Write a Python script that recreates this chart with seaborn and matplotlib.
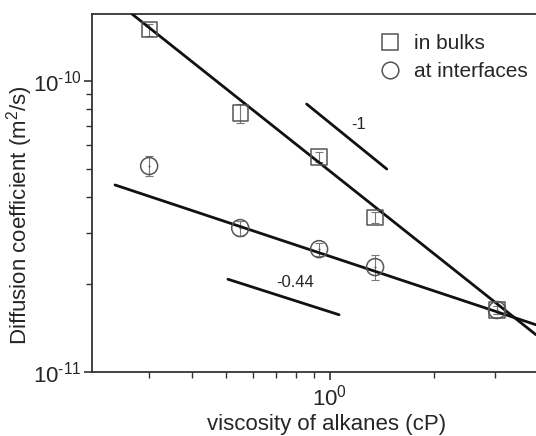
import matplotlib
matplotlib.use("Agg")
import matplotlib.pyplot as plt
import seaborn as sns
import pandas as pd
import numpy as np
from matplotlib.ticker import LogLocator, NullFormatter, FixedLocator, FixedFormatter
from matplotlib.lines import Line2D

# ---- data ----
viscosity = [0.30, 0.55, 0.93, 1.35, 3.04]          # cP
d_bulk = [1.50e-10, 7.76e-11, 5.48e-11, 3.40e-11, 1.63e-11]
d_bulk_err = [7.0e-12, 5.7e-12, 2.2e-12, 1.4e-12, 5e-13]
d_interf = [5.10e-11, 3.12e-11, 2.64e-11, 2.29e-11, 1.63e-11]
d_interf_err = [4.0e-12, 1.8e-12, 1.3e-12, 2.3e-12, 5e-13]

fit_bulk_x = [0.2676, 3.94]
fit_bulk_y = [1.70e-10, 1.34e-11]
fit_interf_x = [0.239, 3.94]
fit_interf_y = [4.39e-11, 1.45e-11]

ref1_x = [0.856, 1.459]
ref1_y = [8.33e-11, 4.98e-11]
ref044_x = [0.507, 1.062]
ref044_y = [2.08e-11, 1.57e-11]

x_major_ticks = [1.0]
x_major_labels = [r"10$^{\text{0}}$"]
y_major_ticks = [1e-11, 1e-10]
y_major_labels = [r"10$^{\text{-11}}$", r"10$^{\text{-10}}$"]

series_labels = ["in bulks", "at interfaces"]
xlabel = "viscosity of alkanes (cP)"
ylabel = "Diffusion coefficient (m$^2$/s)"

# ---- style ----
sns.set_style("ticks")
plt.rcParams["font.family"] = ["Liberation Sans", "DejaVu Sans"]
plt.rcParams["mathtext.fontset"] = "custom"
plt.rcParams["mathtext.rm"] = "Liberation Sans"
plt.rcParams["mathtext.it"] = "Liberation Sans:italic"
plt.rcParams["mathtext.default"] = "regular"

fig = plt.figure(figsize=(5.36, 4.36), dpi=100)
ax = fig.add_axes([92.3 / 536, (436 - 371.7) / 436, (536 - 92.3) / 536, (371.7 - 14) / 436])

ax.set_xscale("log")
ax.set_yscale("log")

mk_col = "#555555"
df = pd.DataFrame({"x": viscosity, "bulk": d_bulk, "interf": d_interf})

# error bars
ax.errorbar(viscosity, d_bulk, yerr=d_bulk_err, fmt="none", ecolor="#777777",
            elinewidth=0.8, capsize=3, capthick=0.8, zorder=2)
ax.errorbar(viscosity, d_interf, yerr=d_interf_err, fmt="none", ecolor="#777777",
            elinewidth=0.8, capsize=3, capthick=0.8, zorder=2)

# fit and reference lines
for lx, ly in [(fit_bulk_x, fit_bulk_y), (fit_interf_x, fit_interf_y),
               (ref1_x, ref1_y), (ref044_x, ref044_y)]:
    sns.lineplot(x=lx, y=ly, ax=ax, color="#111111", lw=2.0, zorder=3)

# markers
sns.scatterplot(data=df, x="x", y="bulk", ax=ax, marker="s", s=120,
                facecolors="none", edgecolor=mk_col, linewidth=1.1, zorder=4)
sns.scatterplot(data=df, x="x", y="interf", ax=ax, marker="o", s=150,
                facecolors="none", edgecolor=mk_col, linewidth=1.1, zorder=4)
sns.scatterplot(data=df, x="x", y="interf", ax=ax, marker="o", s=2,
                color=mk_col, linewidth=0, zorder=4)

ax.text(1.213, 7.11e-11, "-1", fontsize=12, ha="center", va="center")
ax.text(0.792, 2.02e-11, "-0.44", fontsize=12, ha="center", va="center")

ax.set_xlim(0.2055, 3.94)
ax.set_ylim(1e-11, 1.70e-10)

ax.set_xlabel(xlabel, fontsize=16)
ax.set_ylabel(ylabel, fontsize=16)
ax.xaxis.set_label_coords((326.5 - 92.3) / 443.7, -(424 - 371.7) / 357.7)
ax.yaxis.set_label_coords(-(92.3 - 20) / 443.7, (371.7 - 215) / 357.7)
ax.xaxis.label.set_va("center")
ax.yaxis.label.set_va("center")

ax.xaxis.set_major_locator(FixedLocator(x_major_ticks))
ax.xaxis.set_major_formatter(FixedFormatter(x_major_labels))
ax.xaxis.set_minor_locator(LogLocator(base=10, subs=np.arange(2, 10), numticks=20))
ax.xaxis.set_minor_formatter(NullFormatter())
ax.yaxis.set_major_locator(FixedLocator(y_major_ticks))
ax.yaxis.set_major_formatter(FixedFormatter(y_major_labels))
ax.yaxis.set_minor_locator(LogLocator(base=10, subs=np.arange(2, 10), numticks=20))
ax.yaxis.set_minor_formatter(NullFormatter())

ax.tick_params(which="major", length=6, width=1.2, color="#333333", labelsize=16, pad=3)
ax.tick_params(axis="y", which="major", pad=1.5)
ax.tick_params(which="minor", length=4, width=1.0, color="#333333")

for side in ["left", "bottom", "top"]:
    ax.spines[side].set_color("#333333")
    ax.spines[side].set_linewidth(1.3)
ax.spines["right"].set_visible(False)

# legend
handles = [
    Line2D([], [], marker="s", ls="none", markersize=11, markerfacecolor="none",
           markeredgecolor=mk_col, markeredgewidth=1.1),
    Line2D([], [], marker="o", ls="none", markersize=12, markerfacecolor="none",
           markeredgecolor=mk_col, markeredgewidth=1.1),
]
leg = ax.legend(handles, series_labels, loc="upper left",
                bbox_to_anchor=((379.6 - 92.3) / 443.7, (371.7 - 34) / 357.7),
                frameon=False, fontsize=15, handlelength=1.0, handletextpad=0.65,
                borderpad=0, borderaxespad=0, labelspacing=0.44)

fig.savefig("out.png", dpi=100)
